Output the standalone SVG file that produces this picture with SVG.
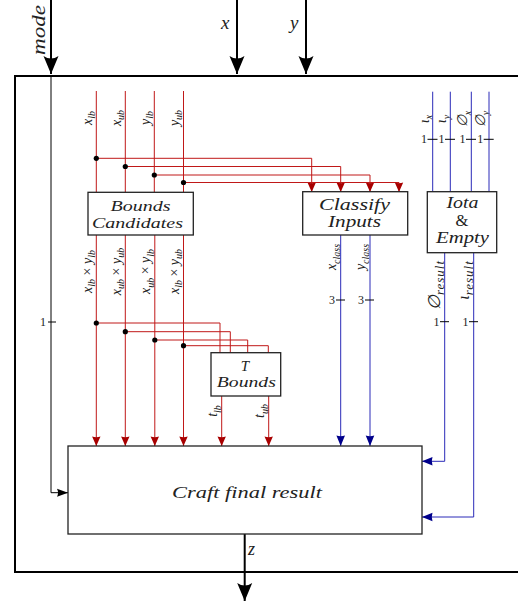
<svg xmlns="http://www.w3.org/2000/svg" width="518" height="603" viewBox="0 0 518 603">
<style>
text{font-family:"Liberation Serif","DejaVu Serif",serif;font-style:italic;fill:#222}
.up{font-family:"Liberation Serif","DejaVu Serif",serif;font-style:normal;fill:#222}
.box{fill:#fff;stroke:#222;stroke-width:1.3}
.red{fill:none;stroke:#c01818;stroke-width:1}
.blue{fill:none;stroke:#2a2ab8;stroke-width:1}
.blk{fill:none;stroke:#000;stroke-width:1}
.thick{fill:none;stroke:#000;stroke-width:2}
.lbl{font-size:14px}
.sub{font-size:10px}
.big{font-size:16.5px}
.mid{font-size:15px}
.tick{font-size:12px;font-style:normal}
</style>
<defs>
<marker id="ar" markerUnits="userSpaceOnUse" viewBox="-10 -6 12 12" markerWidth="12" markerHeight="12" refX="0" refY="0" orient="auto"><path d="M0,0 L-9.5,-4.2 Q-8,0 -9.5,4.2 Z" fill="#a80000"/></marker>
<marker id="ab" markerUnits="userSpaceOnUse" viewBox="-12 -6 14 12" markerWidth="14" markerHeight="12" refX="0" refY="0" orient="auto"><path d="M0,0 L-10.5,-4.3 Q-9,0 -10.5,4.3 Z" fill="#00008b"/></marker>
<marker id="ak" markerUnits="userSpaceOnUse" viewBox="-12 -6 14 12" markerWidth="14" markerHeight="12" refX="0" refY="0" orient="auto"><path d="M0,0 L-11,-4 Q-9,0 -11,4 Z" fill="#000"/></marker>
<marker id="abig" markerUnits="userSpaceOnUse" viewBox="-20 -9 22 18" markerWidth="22" markerHeight="18" refX="0" refY="0" orient="auto"><path d="M0,0 L-18,-7.5 Q-13,0 -18,7.5 Z" fill="#000"/></marker>
</defs>

<g id="outer"><rect x="15" y="76" width="520" height="496" fill="none" stroke="#000" stroke-width="2"/></g>

<g id="connectors">
<line class="thick" x1="51" y1="0" x2="51" y2="74" marker-end="url(#abig)"/>
<line class="thick" x1="237" y1="0" x2="237" y2="74" marker-end="url(#abig)"/>
<line class="thick" x1="306" y1="0" x2="306" y2="74" marker-end="url(#abig)"/>
<polyline class="blk" points="51,76 51,492.7 68,492.7" marker-end="url(#ak)"/>
<line class="blk" x1="48" y1="322" x2="56" y2="322"/>
<line class="red" x1="96.3" y1="91" x2="96.3" y2="192"/>
<line class="red" x1="125.3" y1="91" x2="125.3" y2="192"/>
<line class="red" x1="154.3" y1="91" x2="154.3" y2="192"/>
<line class="red" x1="183.5" y1="91" x2="183.5" y2="192"/>
<polyline class="red" points="96.3,158.3 311.7,158.3 311.7,192" marker-end="url(#ar)"/>
<polyline class="red" points="125.3,166.5 340.7,166.5 340.7,192" marker-end="url(#ar)"/>
<polyline class="red" points="154.3,175 370,175 370,192" marker-end="url(#ar)"/>
<polyline class="red" points="183.5,182.5 399,182.5 399,192" marker-end="url(#ar)"/>
<circle cx="96.3" cy="158.3" r="2.6" fill="#000"/>
<circle cx="125.3" cy="166.5" r="2.6" fill="#000"/>
<circle cx="154.3" cy="175" r="2.6" fill="#000"/>
<circle cx="183.5" cy="182.5" r="2.6" fill="#000"/>
<line class="red" x1="96.3" y1="235" x2="96.3" y2="446" marker-end="url(#ar)"/>
<line class="red" x1="125.3" y1="235" x2="125.3" y2="446" marker-end="url(#ar)"/>
<line class="red" x1="154.8" y1="235" x2="154.8" y2="446" marker-end="url(#ar)"/>
<line class="red" x1="183.5" y1="235" x2="183.5" y2="446" marker-end="url(#ar)"/>
<polyline class="red" points="96.3,323 220,323 220,352.7"/>
<polyline class="red" points="125.3,331.7 230.3,331.7 230.3,352.7"/>
<polyline class="red" points="154.8,340 247.7,340 247.7,352.7"/>
<polyline class="red" points="183.5,345.7 268.3,345.7 268.3,352.7"/>
<circle cx="96.3" cy="323" r="2.6" fill="#000"/>
<circle cx="125.3" cy="331.7" r="2.6" fill="#000"/>
<circle cx="154.8" cy="340" r="2.6" fill="#000"/>
<circle cx="183.5" cy="345.7" r="2.6" fill="#000"/>
<line class="red" x1="221.7" y1="396" x2="221.7" y2="446" marker-end="url(#ar)"/>
<line class="red" x1="268.7" y1="396" x2="268.7" y2="446" marker-end="url(#ar)"/>
<line class="blue" x1="340.7" y1="235" x2="340.7" y2="446" marker-end="url(#ab)"/>
<line class="blue" x1="370" y1="235" x2="370" y2="446" marker-end="url(#ab)"/>
<line class="blk" x1="336" y1="300" x2="345" y2="300"/>
<line class="blk" x1="365" y1="300" x2="374" y2="300"/>
<line class="blue" x1="432.7" y1="91.7" x2="432.7" y2="191.7"/>
<line class="blue" x1="450.3" y1="91.7" x2="450.3" y2="191.7"/>
<line class="blue" x1="471.3" y1="91.7" x2="471.3" y2="191.7"/>
<line class="blue" x1="489" y1="91.7" x2="489" y2="191.7"/>
<line class="blk" x1="427.5" y1="139.3" x2="437.5" y2="139.3"/>
<line class="blk" x1="445" y1="139.3" x2="455" y2="139.3"/>
<line class="blk" x1="466" y1="139.3" x2="476" y2="139.3"/>
<line class="blk" x1="483.7" y1="139.3" x2="493.7" y2="139.3"/>
<polyline class="blue" points="444.7,252.7 444.7,461.3 422,461.3" marker-end="url(#ab)"/>
<polyline class="blue" points="473.7,252.7 473.7,517 422,517" marker-end="url(#ab)"/>
<line class="blk" x1="440" y1="321.7" x2="449" y2="321.7"/>
<line class="blk" x1="469" y1="321.7" x2="478" y2="321.7"/>
<line class="thick" x1="244.7" y1="534" x2="244.7" y2="601" marker-end="url(#abig)"/>
</g>

<g id="labels">
<text transform="translate(45,30) rotate(-90)" text-anchor="middle" font-size="19" textLength="50" lengthAdjust="spacingAndGlyphs">mode</text>
<text x="221" y="29" font-size="19">x</text>
<text x="290" y="29" font-size="19">y</text>
<text x="248" y="555" font-size="18">z</text>
<text class="tick" x="46" y="326" text-anchor="end">1</text>

<text class="lbl" transform="translate(91.5,118) rotate(-90)" text-anchor="middle">x<tspan class="sub" dy="3.5">lb</tspan></text>
<text class="lbl" transform="translate(120.5,118) rotate(-90)" text-anchor="middle">x<tspan class="sub" dy="3.5">ub</tspan></text>
<text class="lbl" transform="translate(149.5,118) rotate(-90)" text-anchor="middle">y<tspan class="sub" dy="3.5">lb</tspan></text>
<text class="lbl" transform="translate(178.5,118) rotate(-90)" text-anchor="middle">y<tspan class="sub" dy="3.5">ub</tspan></text>

<text class="lbl" transform="translate(91.5,271.5) rotate(-90)" text-anchor="middle">x<tspan class="sub" dy="3.5">lb</tspan><tspan class="up" dy="-3.5"> × </tspan>y<tspan class="sub" dy="3.5">lb</tspan></text>
<text class="lbl" transform="translate(120.5,271.5) rotate(-90)" text-anchor="middle">x<tspan class="sub" dy="3.5">ub</tspan><tspan class="up" dy="-3.5"> × </tspan>y<tspan class="sub" dy="3.5">ub</tspan></text>
<text class="lbl" transform="translate(150,271.5) rotate(-90)" text-anchor="middle">x<tspan class="sub" dy="3.5">ub</tspan><tspan class="up" dy="-3.5"> × </tspan>y<tspan class="sub" dy="3.5">lb</tspan></text>
<text class="lbl" transform="translate(178.5,271.5) rotate(-90)" text-anchor="middle">x<tspan class="sub" dy="3.5">lb</tspan><tspan class="up" dy="-3.5"> × </tspan>y<tspan class="sub" dy="3.5">ub</tspan></text>

<text class="lbl" transform="translate(217,411) rotate(-90)" text-anchor="middle">t<tspan class="sub" dy="3.5">lb</tspan></text>
<text class="lbl" transform="translate(264,411) rotate(-90)" text-anchor="middle">t<tspan class="sub" dy="3.5">ub</tspan></text>

<text class="lbl" transform="translate(336,257) rotate(-90)" text-anchor="middle">x<tspan class="sub" dy="3.5">class</tspan></text>
<text class="lbl" transform="translate(365,257) rotate(-90)" text-anchor="middle">y<tspan class="sub" dy="3.5">class</tspan></text>
<text class="tick" x="335" y="304" text-anchor="end">3</text>
<text class="tick" x="364" y="304" text-anchor="end">3</text>

<text class="lbl" transform="translate(428.5,119) rotate(-90)" text-anchor="middle">ι<tspan class="sub" dy="3.5">x</tspan></text>
<text class="lbl" transform="translate(446,119) rotate(-90)" text-anchor="middle">ι<tspan class="sub" dy="3.5">y</tspan></text>
<text class="lbl" transform="translate(467,119) rotate(-90)" text-anchor="middle">∅<tspan class="sub" dy="3.5">x</tspan></text>
<text class="lbl" transform="translate(485,119) rotate(-90)" text-anchor="middle">∅<tspan class="sub" dy="3.5">y</tspan></text>
<text class="tick" x="427" y="143.3" text-anchor="end">1</text>
<text class="tick" x="444.5" y="143.3" text-anchor="end">1</text>
<text class="tick" x="465.5" y="143.3" text-anchor="end">1</text>
<text class="tick" x="483.2" y="143.3" text-anchor="end">1</text>

<text transform="translate(440,285) rotate(-90)" text-anchor="middle" font-size="17">∅<tspan dy="3.5" font-size="13" letter-spacing="1">result</tspan></text>
<text transform="translate(469,280) rotate(-90)" text-anchor="middle" font-size="16">ι<tspan dy="3.5" font-size="13" letter-spacing="1">result</tspan></text>
<text class="tick" x="439.5" y="325.7" text-anchor="end">1</text>
<text class="tick" x="468.5" y="325.7" text-anchor="end">1</text>
</g>

<g id="bounds-candidates">
<rect class="box" x="88" y="192.3" width="105.3" height="42.7"/>
<text class="mid" x="140.5" y="211" text-anchor="middle" textLength="60" lengthAdjust="spacingAndGlyphs">Bounds</text>
<text class="mid" x="137.5" y="227.7" text-anchor="middle" textLength="91" lengthAdjust="spacingAndGlyphs">Candidates</text>
</g>

<g id="classify-inputs">
<rect class="box" x="302.7" y="191.7" width="105" height="43.3"/>
<text class="big" x="354.5" y="209.5" text-anchor="middle" textLength="71" lengthAdjust="spacingAndGlyphs">Classify</text>
<text class="big" x="354.5" y="227.3" text-anchor="middle" textLength="53" lengthAdjust="spacingAndGlyphs">Inputs</text>
</g>

<g id="iota-empty">
<rect class="box" x="427.3" y="191.7" width="69.4" height="61"/>
<text class="big" x="462.5" y="207.7" text-anchor="middle" textLength="32" lengthAdjust="spacingAndGlyphs">Iota</text>
<text class="big" x="462" y="225.5" text-anchor="middle" style="font-style:normal">&amp;</text>
<text class="big" x="462.5" y="242.7" text-anchor="middle" textLength="53" lengthAdjust="spacingAndGlyphs">Empty</text>
</g>

<g id="t-bounds">
<rect class="box" x="211" y="352.7" width="69.7" height="43.3"/>
<text class="mid" x="245" y="370.7" text-anchor="middle">T</text>
<text class="mid" x="246.3" y="387.3" text-anchor="middle" textLength="59" lengthAdjust="spacingAndGlyphs">Bounds</text>
</g>

<g id="craft-final-result">
<rect class="box" x="68" y="446" width="354" height="88"/>
<text class="big" x="247" y="497.7" text-anchor="middle" font-size="18" textLength="150" lengthAdjust="spacingAndGlyphs">Craft final result</text>
</g>
</svg>
